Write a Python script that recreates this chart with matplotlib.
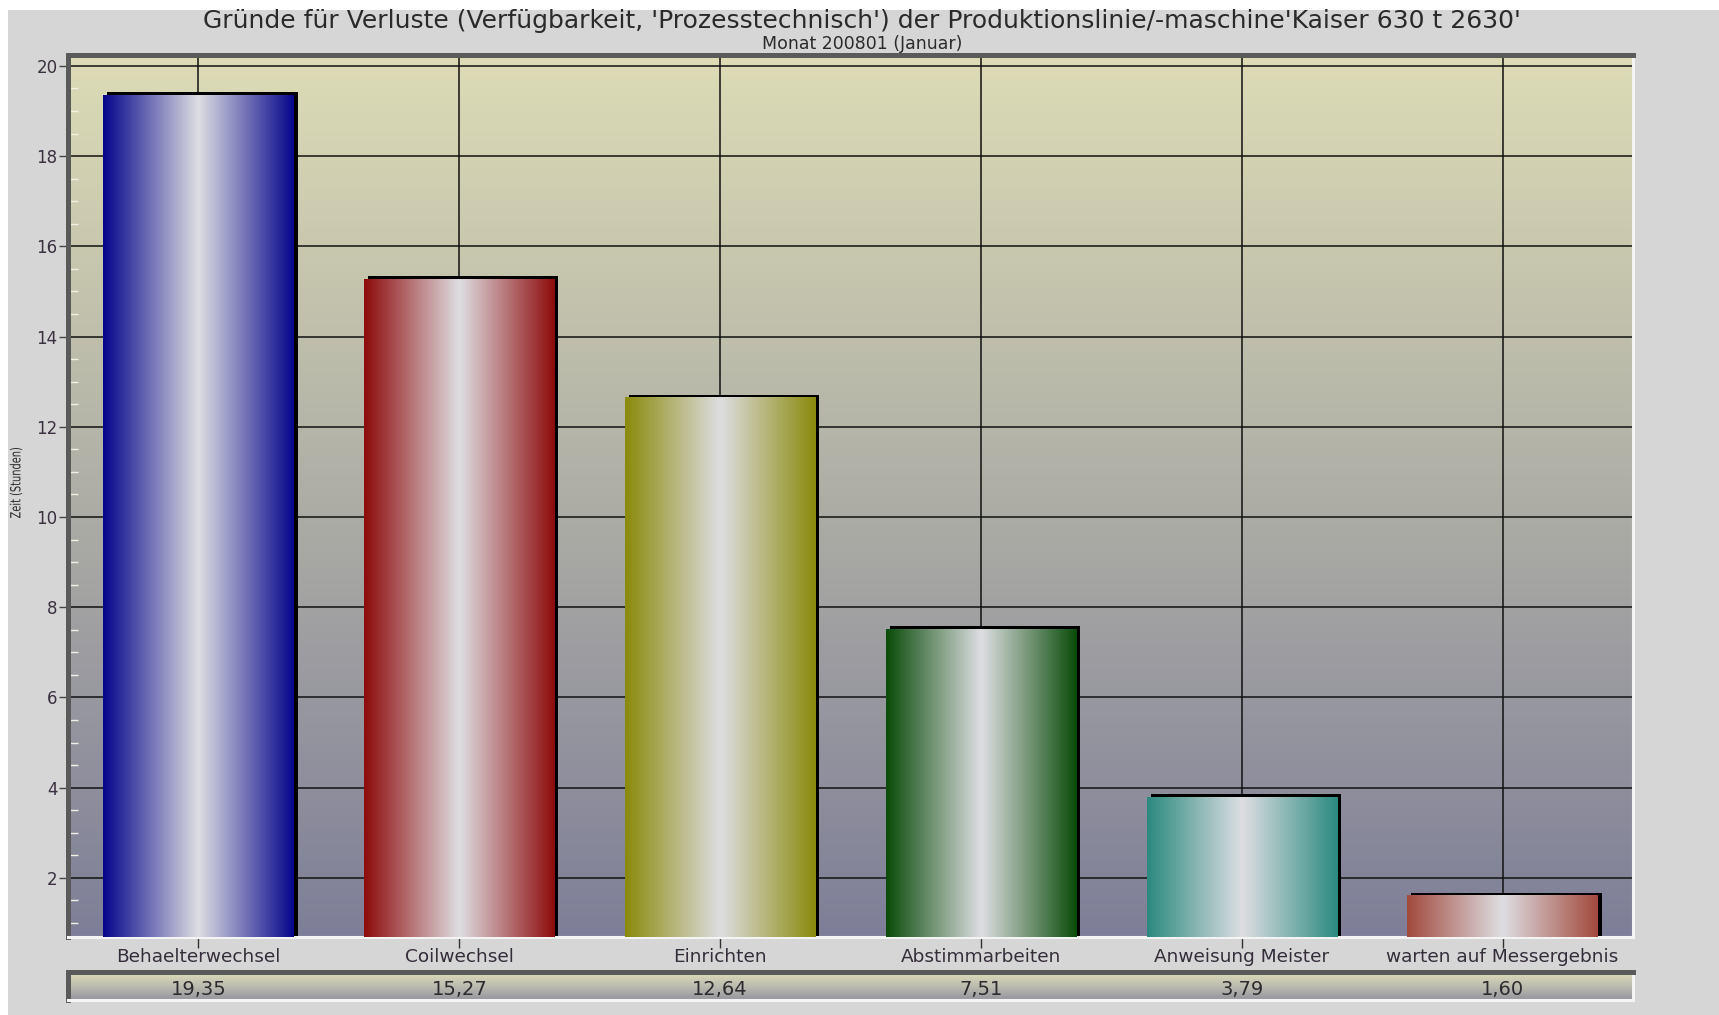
import numpy as np
import matplotlib
matplotlib.use("Agg")
import matplotlib.pyplot as plt
from matplotlib.patches import Rectangle, PathPatch
from matplotlib.colors import LinearSegmentedColormap
from matplotlib.ticker import MultipleLocator
from matplotlib.textpath import TextPath
from matplotlib.font_manager import FontProperties
import matplotlib.transforms as mtransforms

# ---------------- data ----------------
title = "Gründe für Verluste (Verfügbarkeit, 'Prozesstechnisch') der Produktionslinie/-maschine'Kaiser 630 t 2630'"
subtitle = "Monat 200801 (Januar)"
y_label = "Zeit (Stunden)"
categories = ["Behaelterwechsel", "Coilwechsel", "Einrichten",
              "Abstimmarbeiten", "Anweisung Meister", "warten auf Messergebnis"]
values = [19.35, 15.27, 12.64, 7.51, 3.79, 1.60]
value_labels = ["19,35", "15,27", "12,64", "7,51", "3,79", "1,60"]
bar_colors = ["#06068c", "#8e0b0b", "#8a8a0c", "#0a4c0a", "#2b8a80", "#a24a3e"]
y_ticks = [2, 4, 6, 8, 10, 12, 14, 16, 18, 20]

# ---------------- layout ----------------
W, H = 1719, 1015
fig = plt.figure(figsize=(W / 100, H / 100), dpi=100)
fig.patch.set_facecolor("white")
fig.add_artist(Rectangle((8 / W, 0), 1 - 8 / W, 1 - 10 / H, transform=fig.transFigure,
                         facecolor="#d6d6d6", edgecolor="none", zorder=-10))

L, R, T, B = 68, 1633, 55, 937
ax = fig.add_axes([L / W, 1 - B / H, (R - L) / W, (B - T) / H])

# plot background gradient
bg_cmap = LinearSegmentedColormap.from_list("bg", ["#7e7e98", "#aeaea6", "#dddcb6"])
ax.imshow(np.linspace(0, 1, 256).reshape(-1, 1), cmap=bg_cmap, origin="lower",
          extent=[0, 1, 0, 1], transform=ax.transAxes, aspect="auto", zorder=0.1)

x = np.arange(len(categories))
bars = ax.bar(x, values, width=0.73, color="none", edgecolor="none", zorder=3)
shadow_tr = ax.transData + mtransforms.ScaledTranslation(4 / 100, 3 / 100, fig.dpi_scale_trans)
grad = np.linspace(0, 1, 256).reshape(1, -1)
for p, col in zip(bars.patches, bar_colors):
    x0, w, h = p.get_x(), p.get_width(), p.get_height()
    ax.add_patch(Rectangle((x0, 0), w, h, transform=shadow_tr, facecolor="black",
                           edgecolor="none", zorder=2))
    cm = LinearSegmentedColormap.from_list("b", [col, "#dedee2", col])
    ax.imshow(grad, cmap=cm, extent=[x0, x0 + w, 0, h], aspect="auto",
              zorder=3, interpolation="bilinear")

ax.set_xlim(-0.5, len(categories) - 0.5)
ax.set_ylim(0.69, 20.24)
ax.set_axisbelow(True)
ax.set_xticks(x)
ax.set_xticklabels(categories)
ax.set_yticks(y_ticks)
ax.yaxis.set_minor_locator(MultipleLocator(0.5))
ax.grid(True, which="major", color="#111111", linewidth=1.1)

ax.tick_params(axis="y", which="major", direction="out", length=6.5, width=1,
               color="#444444", labelsize=12, labelcolor="#3a3040", pad=1)
ax.tick_params(axis="y", which="minor", direction="in", length=7, width=1,
               color="#f2f2e4")
ax.tick_params(axis="x", which="major", direction="out", length=8, width=1,
               color="#333333", labelsize=13.3, labelcolor="#352d3a", pad=0)

for s in ("left", "top"):
    ax.spines[s].set_color("#5a5a5a")
    ax.spines[s].set_linewidth(3.6)
for s in ("right", "bottom"):
    ax.spines[s].set_color("#f4f4f4")
    ax.spines[s].set_linewidth(2.2)

# value table
tT, tB = 972, 1000
tax = fig.add_axes([L / W, 1 - tB / H, (R - L) / W, (tB - tT) / H])
tb_cmap = LinearSegmentedColormap.from_list("tb", ["#96969e", "#bcbcb0", "#dedcb8"])
tax.imshow(np.linspace(0, 1, 64).reshape(-1, 1), cmap=tb_cmap, origin="lower",
           extent=[0, 1, 0, 1], transform=tax.transAxes, aspect="auto", zorder=0.1)
tax.set_xlim(-0.5, len(categories) - 0.5)
tax.set_ylim(0, 1)
tax.set_xticks([])
tax.set_yticks([])
for xi, lab in zip(x, value_labels):
    tax.text(xi, 0.36, lab, ha="center", va="center", fontsize=14, color="#2e2a30")
for s in ("left", "top"):
    tax.spines[s].set_color("#5a5a5a")
    tax.spines[s].set_linewidth(3.6)
for s in ("right", "bottom"):
    tax.spines[s].set_color("#f4f4f4")
    tax.spines[s].set_linewidth(2.2)

fig.text(862 / W, 1 - 21 / H, title, ha="center", va="center", fontsize=18, color="#2a2a2a")
fig.text(862 / W, 1 - 44 / H, subtitle, ha="center", va="center", fontsize=12.5, color="#2a2a2a")

# narrow (compressed) y-axis label, still drawn from real text glyphs
tp = TextPath((0, 0), y_label, size=14, prop=FontProperties(family="DejaVu Sans"))
bb = tp.get_extents()
sx = 70 / bb.width
lab_tr = (mtransforms.Affine2D()
          .translate(-(bb.x0 + bb.x1) / 2, -(bb.y0 + bb.y1) / 2)
          .scale(sx, 1.0)
          .rotate_deg(90)
          .translate(16, H - 483)
          .scale(1 / W, 1 / H)) + fig.transFigure
fig.add_artist(PathPatch(tp, transform=lab_tr, facecolor="#2a2a2a", edgecolor="none", zorder=5))

fig.savefig("out.png", dpi=100, facecolor=fig.get_facecolor())
